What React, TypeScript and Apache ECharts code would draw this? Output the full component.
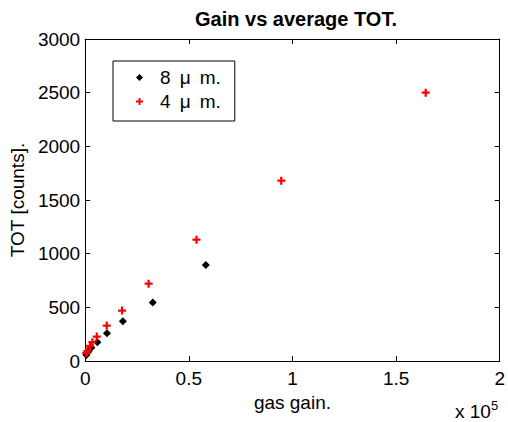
import React, { useEffect, useRef } from "react";
import * as echarts from "echarts";

// Gas gain (raw) vs average time-over-threshold, two gap widths
const gain8um = [600, 1600, 3000, 5900, 10500, 18200, 32600, 58200];
const tot8um = [55, 88, 124, 175, 258, 370, 545, 895];
const gain4um = [500, 1100, 2400, 3500, 5600, 10400, 17800, 30600, 53700, 94600, 164300];
const tot4um = [75, 93, 140, 175, 228, 330, 470, 720, 1130, 1680, 2500];

const seriesNames = ["8\u2009 \u03bc\u2009 m.", "4\u2009 \u03bc\u2009 m."];
const xScale = 1e5;

const DIAMOND = "path://M5,0L10,5L5,10L0,5Z";
const PLUS = "path://M3.6,0H6.4V3.6H10V6.4H6.4V10H3.6V6.4H0V3.6H3.6Z";

const FONT = "'Liberation Sans', Arial, Helvetica, sans-serif";

export default function App() {
  const ref = useRef<HTMLDivElement>(null);

  useEffect(() => {
    if (!ref.current) return;
    const chart = echarts.init(ref.current, null, { renderer: "svg" });

    const pairs = (xs: number[], ys: number[]) => xs.map((x, i) => [x, ys[i]]);
    const axisLine = { show: true, onZero: false, lineStyle: { color: "#000", width: 1 } };
    const tickIn = { show: true, inside: true, length: 5, lineStyle: { color: "#000" } };
    const label = { color: "#000", fontSize: 19, fontFamily: FONT };

    chart.setOption({
      animation: false,
      backgroundColor: "#fff",
      title: {
        text: "Gain vs average TOT.",
        left: 291,
        textAlign: "center",
        top: 4,
        textStyle: { color: "#000", fontSize: 20, fontWeight: "bold", fontFamily: FONT },
      },
      grid: { left: 85, right: 8, top: 39, bottom: 61 },
      legend: {
        orient: "vertical",
        left: 113,
        top: 61,
        borderColor: "#000",
        borderWidth: 1,
        borderRadius: 0,
        padding: [7, 14, 10, 23],
        itemWidth: 7,
        itemHeight: 7,
        itemGap: 5,
        textStyle: { color: "#000", fontSize: 19, fontFamily: FONT, padding: [0, 0, 0, 12] },
        data: [
          { name: seriesNames[0], icon: DIAMOND },
          { name: seriesNames[1], icon: PLUS },
        ],
      },
      xAxis: [
        {
          type: "value",
          min: 0,
          max: 200000,
          interval: 50000,
          name: "gas gain.",
          nameLocation: "middle",
          nameGap: 30,
          nameTextStyle: { color: "#000", fontSize: 19, fontFamily: FONT },
          axisLine,
          axisTick: tickIn,
          splitLine: { show: false },
          axisLabel: { ...label, margin: 8, formatter: (v: number) => String(v / xScale) },
        },
        {
          type: "value",
          position: "top",
          min: 0,
          max: 200000,
          interval: 50000,
          axisLine,
          axisTick: tickIn,
          splitLine: { show: false },
          axisLabel: { show: false },
        },
      ],
      yAxis: [
        {
          type: "value",
          min: 0,
          max: 3000,
          interval: 500,
          name: "TOT [counts].",
          nameLocation: "middle",
          nameGap: 55,
          nameTextStyle: { color: "#000", fontSize: 19, fontFamily: FONT },
          axisLine,
          axisTick: tickIn,
          splitLine: { show: false },
          axisLabel: { ...label, margin: 5, formatter: (v: number) => String(v) },
        },
        {
          type: "value",
          position: "right",
          min: 0,
          max: 3000,
          interval: 500,
          axisLine,
          axisTick: tickIn,
          splitLine: { show: false },
          axisLabel: { show: false },
        },
      ],
      graphic: [
        {
          type: "text",
          left: 455,
          top: 392,
          style: {
            text: "{b|x 10}{s|5}",
            rich: {
              b: { fontSize: 19, fontFamily: FONT, fill: "#000", verticalAlign: "bottom", lineHeight: 22, padding: [10, 0, 0, 0] },
              s: { fontSize: 13, fontFamily: FONT, fill: "#000", verticalAlign: "top", lineHeight: 12 },
            },
          },
        },
      ],
      series: [
        {
          name: seriesNames[0],
          type: "scatter",
          xAxisIndex: 0,
          yAxisIndex: 0,
          symbol: DIAMOND,
          symbolSize: 8,
          itemStyle: { color: "#000", opacity: 1 },
          data: pairs(gain8um, tot8um),
        },
        {
          name: seriesNames[1],
          type: "scatter",
          xAxisIndex: 0,
          yAxisIndex: 0,
          symbol: PLUS,
          symbolSize: 8,
          itemStyle: { color: "#ff0000", opacity: 1 },
          data: pairs(gain4um, tot4um),
        },
      ],
    });

    return () => chart.dispose();
  }, []);

  return (
    <div
      ref={ref}
      style={{ position: "fixed", left: 0, top: 0, width: 508, height: 422, background: "#fff" }}
    />
  );
}
